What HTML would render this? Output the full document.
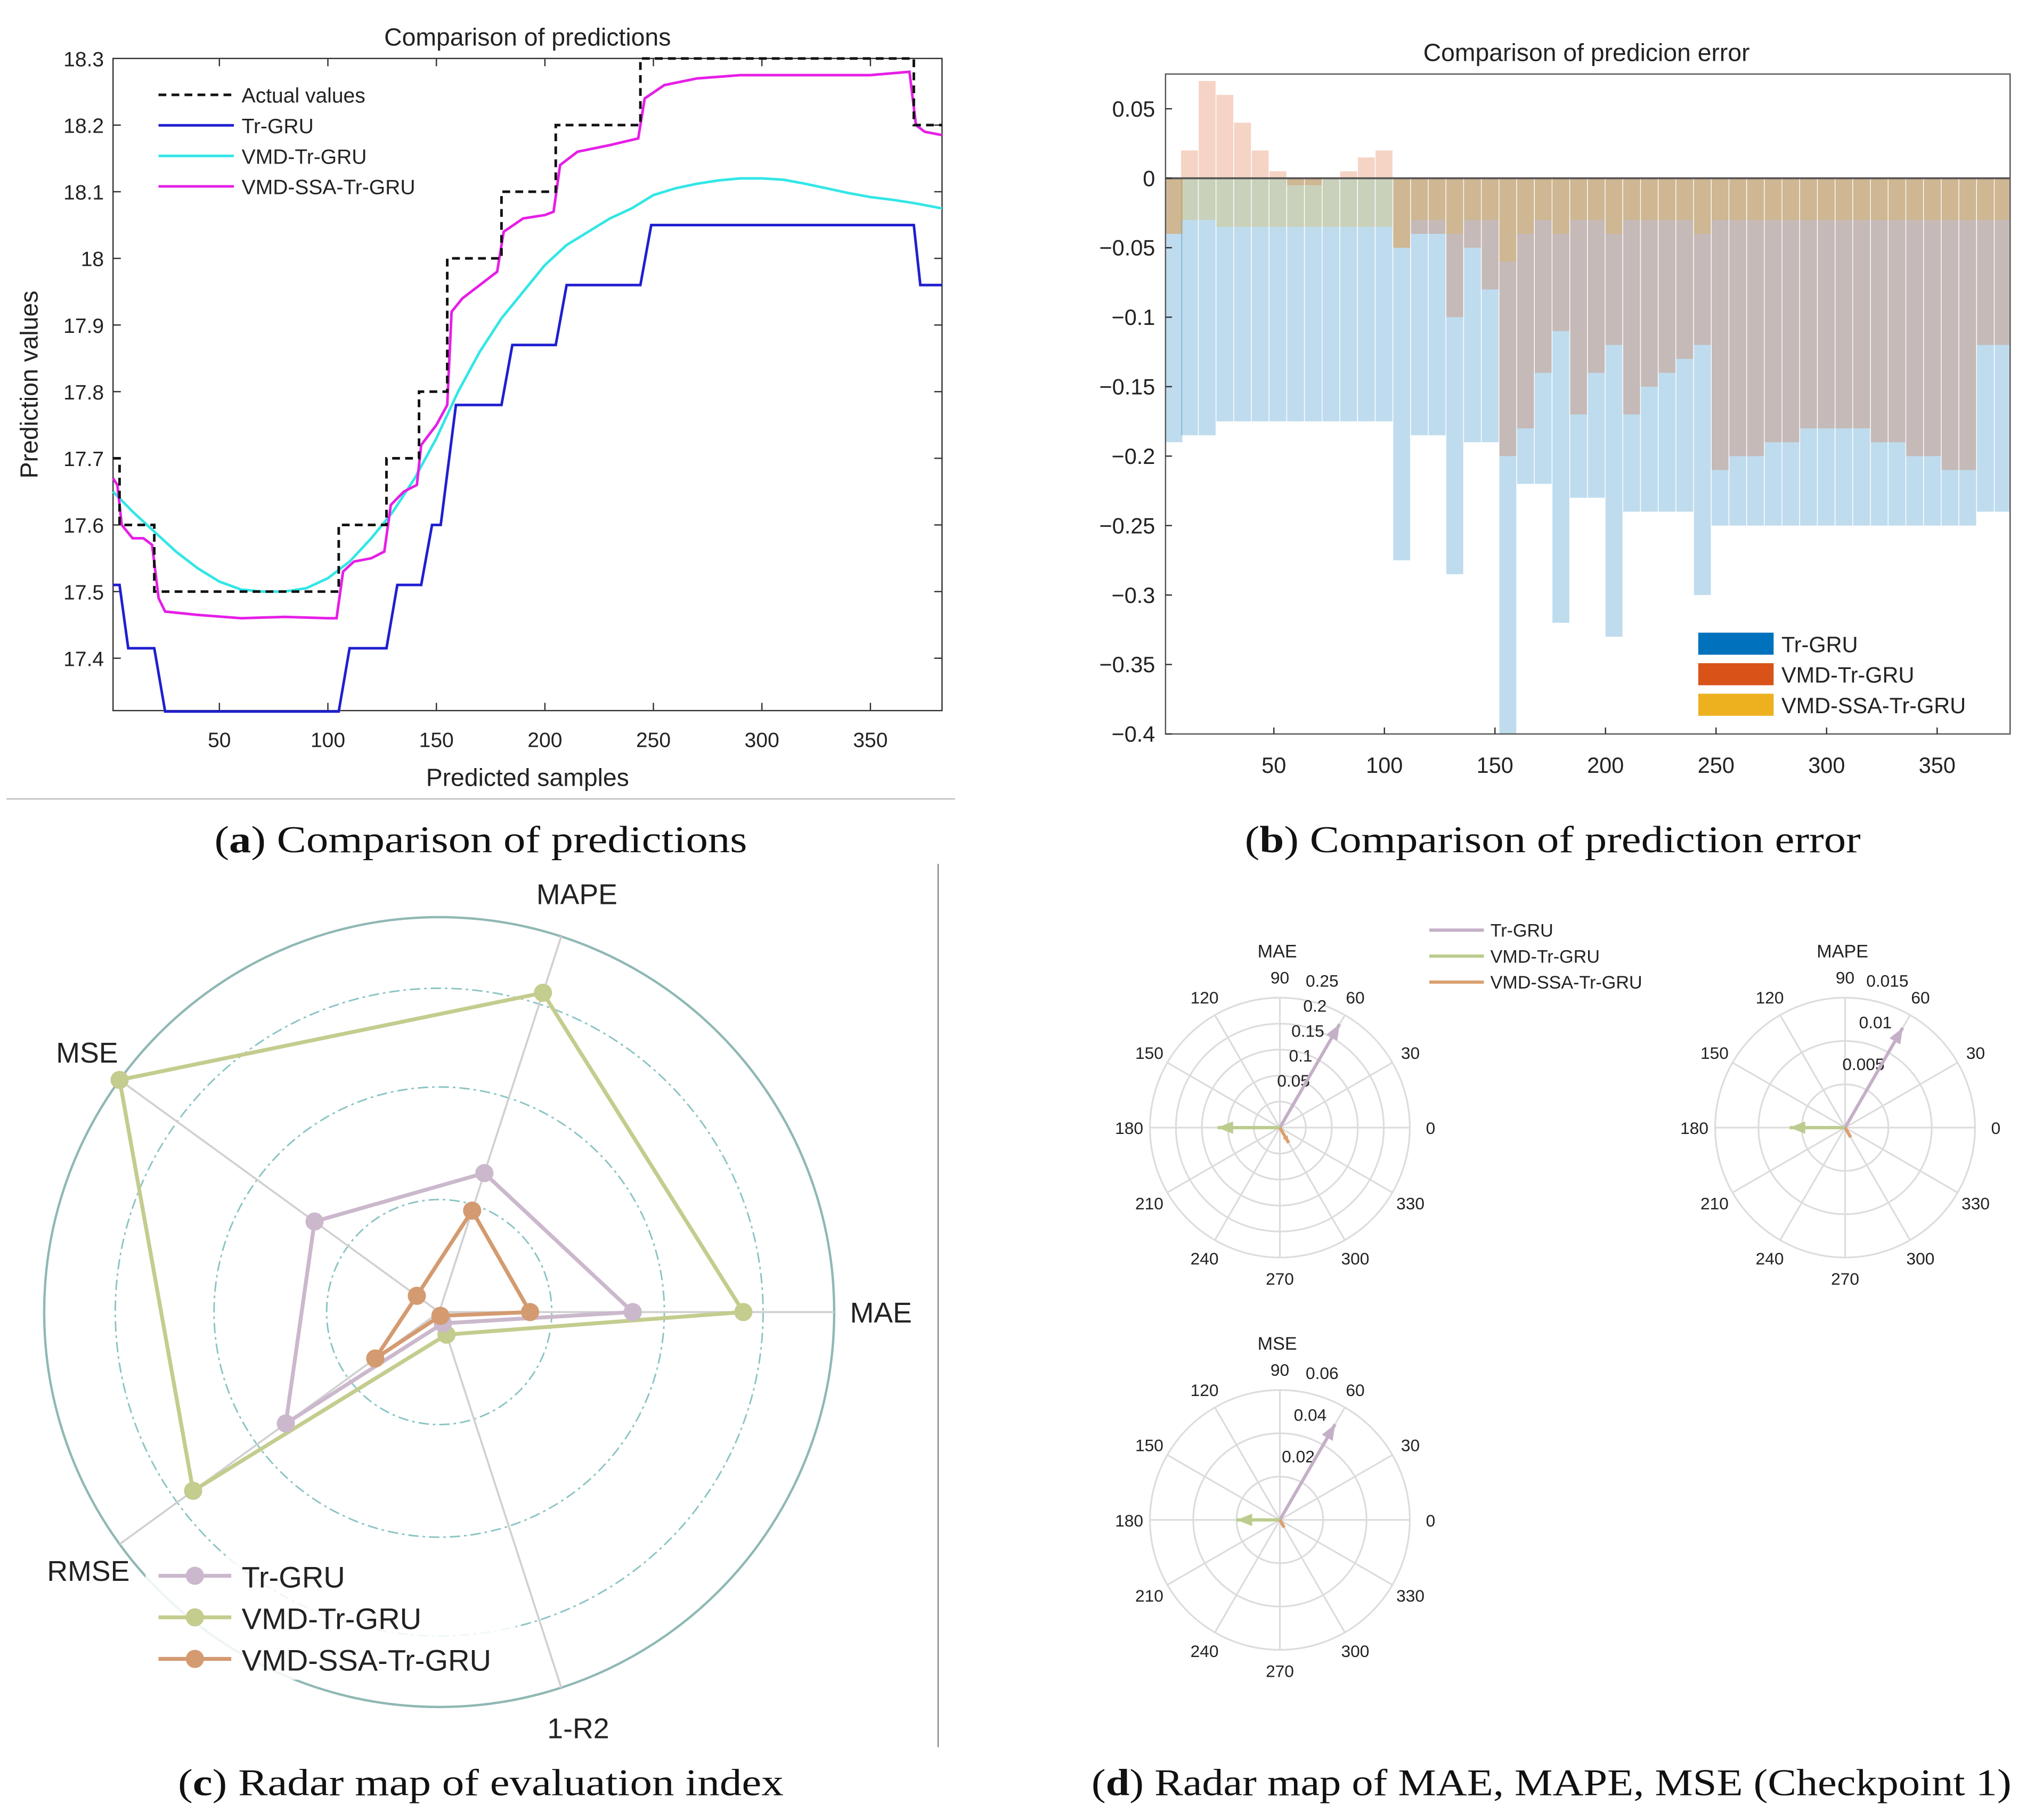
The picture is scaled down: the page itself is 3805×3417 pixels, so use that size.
<!DOCTYPE html>
<html><head><meta charset="utf-8"><style>
html,body{margin:0;padding:0;background:#fff}
svg{display:block}
text{font-family:"Liberation Sans",sans-serif;fill:#222}
.serif{font-family:"Liberation Serif",serif;fill:#111}
</style></head><body>
<svg id="fig" xmlns="http://www.w3.org/2000/svg" width="3805" height="3417" viewBox="0 0 1560 1401" preserveAspectRatio="none">
<rect width="1560" height="1401" fill="#fff"/>
<g id="pa"></g>
<g id="pb"></g>
<g id="pc"></g>
<g id="pd"></g>
<line x1="5" y1="615" x2="735" y2="615" stroke="#bbb" stroke-width="1"/>
<line x1="722" y1="665" x2="722" y2="1345" stroke="#888" stroke-width="1"/>
<text class="serif" x="165" y="656" font-size="29" textLength="410" lengthAdjust="spacingAndGlyphs">(<tspan font-weight="bold">a</tspan>) Comparison of predictions</text>
<text class="serif" x="958" y="656" font-size="29" textLength="474" lengthAdjust="spacingAndGlyphs">(<tspan font-weight="bold">b</tspan>) Comparison of prediction error</text>
<text class="serif" x="137" y="1382" font-size="29" textLength="466" lengthAdjust="spacingAndGlyphs">(<tspan font-weight="bold">c</tspan>) Radar map of evaluation index</text>
<text class="serif" x="840" y="1382" font-size="29" textLength="708" lengthAdjust="spacingAndGlyphs">(<tspan font-weight="bold">d</tspan>) Radar map of MAE, MAPE, MSE (Checkpoint 1)</text>
</svg>
<script>
const NS="http://www.w3.org/2000/svg";
function mk(parent,tag,attrs,txt){const e=document.createElementNS(NS,tag);for(const k in attrs)e.setAttribute(k,attrs[k]);if(txt!==undefined)e.textContent=txt;parent.appendChild(e);return e;}

// ===== Panel A data =====
const aYTicks=[17.4,17.5,17.6,17.7,17.8,17.9,18,18.1,18.2,18.3];
const aXTicks=[50,100,150,200,250,300,350];
const actualX=[1,4,4,20,20,105,105,127,127,142,142,155,155,180,180,205,205,244,244,370,370,383];
const actualY=[17.7,17.7,17.6,17.6,17.5,17.5,17.6,17.6,17.7,17.7,17.8,17.8,18.0,18.0,18.1,18.1,18.2,18.2,18.3,18.3,18.2,18.2];
const trX=[1,4,8,20,25,105,110,127,132,143,148,152,159,180,185,205,210,244,249,370,373,383];
const trY=[17.51,17.51,17.415,17.415,17.32,17.32,17.415,17.415,17.51,17.51,17.6,17.6,17.78,17.78,17.87,17.87,17.96,17.96,18.05,18.05,17.96,17.96];
const vmdX=[1,10,20,30,40,50,60,70,80,90,100,110,120,130,140,150,160,170,180,190,200,210,220,230,240,250,260,270,280,290,300,310,320,330,340,350,360,370,383];
const vmdY=[17.65,17.62,17.59,17.56,17.535,17.515,17.503,17.5,17.5,17.505,17.52,17.545,17.58,17.62,17.67,17.73,17.8,17.86,17.91,17.95,17.99,18.02,18.04,18.06,18.075,18.095,18.105,18.112,18.117,18.12,18.12,18.118,18.112,18.105,18.098,18.092,18.088,18.083,18.075];
const ssaX=[1,3,5,10,15,19,22,25,40,60,80,100,104,107,112,120,126,129,135,141,143,150,155,157,162,170,178,181,190,200,204,207,215,230,243,246,255,270,290,320,350,368,371,375,383];
const ssaY=[17.67,17.66,17.6,17.58,17.58,17.57,17.49,17.47,17.465,17.46,17.462,17.46,17.46,17.53,17.545,17.55,17.56,17.63,17.65,17.66,17.72,17.75,17.78,17.92,17.94,17.96,17.98,18.04,18.06,18.065,18.07,18.14,18.16,18.17,18.18,18.24,18.26,18.27,18.275,18.275,18.275,18.28,18.2,18.19,18.185];

(function(){
 const g=document.getElementById('pa');
 const L=87,R=725,T=45,B=547,xmin=1,xmax=383,ymin=17.3214,ymax=18.3;
 const sx=v=>L+(v-xmin)/(xmax-xmin)*(R-L), sy=v=>B-(v-ymin)/(ymax-ymin)*(B-T);
 let e=mk(g,'rect',{x:L,y:T,width:R-L,height:B-T,fill:'none',stroke:'#333','stroke-width':1});
 
 
 aYTicks.forEach(v=>{const y=sy(v);
  mk(g,'line',{x1:L,y1:y,x2:L+6,y2:y,stroke:'#333'});mk(g,'line',{x1:R,y1:y,x2:R-6,y2:y,stroke:'#333'});
  e=mk(g,'text',{x:L-7,y:y+6,'font-size':16,'text-anchor':'end'},String(v));
  
  });
 aXTicks.forEach(v=>{const x=sx(v);
  mk(g,'line',{x1:x,y1:B,x2:x,y2:B-6,stroke:'#333'});mk(g,'line',{x1:x,y1:T,x2:x,y2:T+6,stroke:'#333'});
  e=mk(g,'text',{x:x,y:B+28,'font-size':16,'text-anchor':'middle'},String(v));
  
  });
 const line=(X,Y,col,w,dash,name)=>{const p=mk(g,'polyline',{points:X.map((x,i)=>sx(x)+','+sy(Y[i])).join(' '),fill:'none',stroke:col,'stroke-width':w});if(dash)p.setAttribute('stroke-dasharray',dash);
  
  };
 line(vmdX,vmdY,'#33e6e6',2,null,'vmd-tr-gru-line');
 line(trX,trY,'#1f1fd0',2,null,'tr-gru-line');
 line(ssaX,ssaY,'#e61ee6',2,null,'vmd-ssa-tr-gru-line');
 line(actualX,actualY,'#111',2,'6,4','actual-values-line');
 e=mk(g,'text',{x:406,y:35,'font-size':19,'text-anchor':'middle'},'Comparison of predictions');
 
 e=mk(g,'text',{x:406,y:605,'font-size':19,'text-anchor':'middle'},'Predicted samples');
 
 e=mk(g,'text',{x:0,y:0,'font-size':19,'text-anchor':'middle',transform:'translate(29,296) rotate(-90)'},'Prediction values');
 
 const leg=[['Actual values','#111','6,4'],['Tr-GRU','#1f1fd0',null],['VMD-Tr-GRU','#33e6e6',null],['VMD-SSA-Tr-GRU','#e61ee6',null]];
 leg.forEach((l,i)=>{const y=73+i*23.5;const ln=mk(g,'line',{x1:122,y1:y,x2:180,y2:y,stroke:l[1],'stroke-width':2});if(l[2])ln.setAttribute('stroke-dasharray',l[2]);
  const t=mk(g,'text',{x:186,y:y+6,'font-size':16},l[0]);
  
  });
})();

// ===== Panel B data =====
const bXTicks=[50,100,150,200,250,300,350];
const bYTicks=[0.05,0,-0.05,-0.1,-0.15,-0.2,-0.25,-0.3,-0.35,-0.4];
const bYLabels=['0.05','0','\u22120.05','\u22120.1','\u22120.15','\u22120.2','\u22120.25','\u22120.3','\u22120.35','\u22120.4'];
const bSamples=[4,12,20,28,36,44,52,60,68,76,84,92,100,108,116,124,132,140,148,156,164,172,180,188,196,204,212,220,228,236,244,252,260,268,276,284,292,300,308,316,324,332,340,348,356,364,372,380];
const errTr=[-0.19,-0.185,-0.185,-0.175,-0.175,-0.175,-0.175,-0.175,-0.175,-0.175,-0.175,-0.175,-0.175,-0.275,-0.185,-0.185,-0.285,-0.19,-0.19,-0.4,-0.22,-0.22,-0.32,-0.23,-0.23,-0.33,-0.24,-0.24,-0.24,-0.24,-0.3,-0.25,-0.25,-0.25,-0.25,-0.25,-0.25,-0.25,-0.25,-0.25,-0.25,-0.25,-0.25,-0.25,-0.25,-0.25,-0.24,-0.24];
const errVmd=[-0.04,0.02,0.07,0.06,0.04,0.02,0.005,-0.005,-0.005,0,0.005,0.015,0.02,-0.05,-0.04,-0.04,-0.1,-0.05,-0.08,-0.2,-0.18,-0.14,-0.11,-0.17,-0.14,-0.12,-0.17,-0.15,-0.14,-0.13,-0.12,-0.21,-0.2,-0.2,-0.19,-0.19,-0.18,-0.18,-0.18,-0.18,-0.19,-0.19,-0.2,-0.2,-0.21,-0.21,-0.12,-0.12];
const errSsa=[-0.04,-0.03,-0.03,-0.035,-0.035,-0.035,-0.035,-0.035,-0.035,-0.035,-0.035,-0.035,-0.035,-0.05,-0.03,-0.03,-0.04,-0.03,-0.03,-0.06,-0.04,-0.03,-0.04,-0.03,-0.03,-0.04,-0.03,-0.03,-0.03,-0.03,-0.04,-0.03,-0.03,-0.03,-0.03,-0.03,-0.03,-0.03,-0.03,-0.03,-0.03,-0.03,-0.03,-0.03,-0.03,-0.03,-0.03,-0.03];

(function(){
 const g=document.getElementById('pb');
 const L=897,R=1547,T=57,B=565,xmin=1,xmax=383,ymin=-0.4,ymax=0.075;
 const sx=v=>L+(v-xmin)/(xmax-xmin)*(R-L), sy=v=>B-(v-ymin)/(ymax-ymin)*(B-T);
 const bw=8*(R-L)/(xmax-xmin);
 const draw=(vals,col,op,name)=>{vals.forEach((v,i)=>{const x=sx(bSamples[i])-bw/2;const y0=sy(0),y1=sy(v);
   const r=mk(g,'rect',{x:Math.max(L,x),y:Math.min(y0,y1),width:Math.min(bw,R-Math.max(L,x))-0.6,height:Math.abs(y1-y0),fill:col,'fill-opacity':op});
   
   });};
 draw(errTr,'#0072bd',0.25,'bar-tr-gru');
 draw(errVmd,'#d95319',0.25,'bar-vmd-tr-gru');
 draw(errSsa,'#edb120',0.25,'bar-vmd-ssa-tr-gru');
 mk(g,'line',{x1:L,y1:sy(0),x2:R,y2:sy(0),stroke:'#555','stroke-width':1.5});
 let e=mk(g,'rect',{x:L,y:T,width:R-L,height:B-T,fill:'none',stroke:'#555'});
 
 bYTicks.forEach((v,i)=>{const y=sy(v);mk(g,'line',{x1:L,y1:y,x2:L+5,y2:y,stroke:'#333'});
  e=mk(g,'text',{x:L-8,y:y+6,'font-size':17,'text-anchor':'end'},bYLabels[i]);
  });
 bXTicks.forEach(v=>{const x=sx(v);mk(g,'line',{x1:x,y1:B,x2:x,y2:B-5,stroke:'#333'});
  e=mk(g,'text',{x:x,y:B+30,'font-size':17,'text-anchor':'middle'},String(v));
  });
 e=mk(g,'text',{x:1221,y:47,'font-size':19,'text-anchor':'middle'},'Comparison of predicion error');
 
 mk(g,'rect',{x:1300,y:480,width:240,height:78,fill:'#fff'});
 [['Tr-GRU','#0072bd'],['VMD-Tr-GRU','#d95319'],['VMD-SSA-Tr-GRU','#edb120']].forEach((l,i)=>{const y=487+i*23.5;
  mk(g,'rect',{x:1307,y:y,width:58,height:17,fill:l[1]});
  const t=mk(g,'text',{x:1371,y:y+15,'font-size':17},l[0]);
  });
})();

// ===== Panel C data =====
const radarAxes=['MAE','MAPE','MSE','RMSE','1-R2'];
const radarTr=[0.49,0.37,0.39,0.48,0.03];
const radarVmd=[0.77,0.85,1.0,0.77,0.06];
const radarSsa=[0.23,0.27,0.07,0.2,0.01];

(function(){
 const g=document.getElementById('pc');
 const cx=338,cy=1010,R=304;
 const pt=(i,r)=>{const a=i*72*Math.PI/180;return [cx+Math.cos(a)*r*R,cy-Math.sin(a)*r*R];};
 [0.285,0.57,0.82].forEach(f=>mk(g,'circle',{cx:cx,cy:cy,r:f*R,fill:'none',stroke:'#8cc4c4','stroke-width':1.2,'stroke-dasharray':'8,3,2,3'}));
 mk(g,'circle',{cx:cx,cy:cy,r:R,fill:'none',stroke:'#8fb8b4','stroke-width':1.8});
 const lblPos=[[678,1018,'middle'],[444,696,'middle'],[67,818,'middle'],[68,1217,'middle'],[445,1338,'middle']];
 radarAxes.forEach((n,i)=>{const p=pt(i,1.0);mk(g,'line',{x1:cx,y1:cy,x2:p[0],y2:p[1],stroke:'#d0d0d0','stroke-width':1.5});
  const t=mk(g,'text',{x:lblPos[i][0],y:lblPos[i][1],'font-size':22,'text-anchor':'middle'},n);
  });
 const series=[[radarVmd,'#c4cc8e','vmd-tr-gru'],[radarTr,'#cbb8cc','tr-gru'],[radarSsa,'#d49a70','vmd-ssa-tr-gru']];
 series.forEach(s=>{const pts=s[0].map((v,i)=>pt(i,v));
  const p=mk(g,'polygon',{points:pts.map(q=>q.join(',')).join(' '),fill:'none',stroke:s[1],'stroke-width':3});
  
  pts.forEach(q=>{const c=mk(g,'circle',{cx:q[0],cy:q[1],r:7,fill:s[1]});
   });});
 mk(g,'rect',{x:112,y:1198,width:285,height:95,fill:'#fff','fill-opacity':0.85});
 [['Tr-GRU','#cbb8cc'],['VMD-Tr-GRU','#c4cc8e'],['VMD-SSA-Tr-GRU','#d49a70']].forEach((l,i)=>{const y=1213+i*32;
  mk(g,'line',{x1:122,y1:y,x2:178,y2:y,stroke:l[1],'stroke-width':3});mk(g,'circle',{cx:150,cy:y,r:7,fill:l[1]});
  const t=mk(g,'text',{x:186,y:y+9,'font-size':23},l[0]);
  });
})();

// ===== Panel D data =====
const polarTitles=['MAE','MAPE','MSE'];
const polarMax=[0.25,0.015,0.06];
const polarRingLabels=[['0.05','0.1','0.15','0.2','0.25'],['0.005','0.01','0.015'],['0.02','0.04','0.06']];
const polarAngles=[60,180,300];
const polarTr=[0.23,0.0133,0.051];
const polarVmd=[0.12,0.0064,0.02];
const polarSsa=[0.034,0.0013,0.004];

(function(){
 const g=document.getElementById('pd');
 const centers=[[985,868],[1420,868],[985,1170]];const R=100;
 const cols=['#c4b0c6','#bccc8e','#d9a070'];
 centers.forEach((c,k)=>{const [cx,cy]=c;
  const labs=polarRingLabels[k];const n=labs.length;
  for(let j=1;j<=n;j++)mk(g,'circle',{cx:cx,cy:cy,r:R*j/n,fill:'none',stroke:'#dcdcdc','stroke-width':1.3});
  for(let a=0;a<360;a+=30){const r=a*Math.PI/180;
   mk(g,'line',{x1:cx,y1:cy,x2:cx+R*Math.cos(r),y2:cy-R*Math.sin(r),stroke:'#dcdcdc','stroke-width':1.3});
   const t=mk(g,'text',{x:cx+116*Math.cos(r),y:cy-116*Math.sin(r)+5,'font-size':13,'text-anchor':'middle',fill:'#444'},String(a));
   }
  labs.forEach((l,j)=>{const rr=R*(j+1)/n+18;const a=74*Math.PI/180;
   const t=mk(g,'text',{x:cx+rr*Math.cos(a),y:cy-rr*Math.sin(a)+5,'font-size':13,'text-anchor':'middle',fill:'#444'},l);
   });
  let t=mk(g,'text',{x:cx-2,y:cy-131,'font-size':14,'text-anchor':'middle'},polarTitles[k]);
  
  [[polarTr,0],[polarVmd,1],[polarSsa,2]].forEach(s=>{const v=s[0][k];const L=v/polarMax[k]*R;const a=polarAngles[s[1]]*Math.PI/180;
   const ex=cx+L*Math.cos(a),ey=cy-L*Math.sin(a);
   const ln=mk(g,'line',{x1:cx,y1:cy,x2:ex,y2:ey,stroke:cols[s[1]],'stroke-width':2.5});
   
   const h=Math.min(12,L*0.4),w=Math.min(5,h*0.4);
   const bx=ex-h*Math.cos(a),by=ey+h*Math.sin(a);const px=Math.sin(a)*w,py=Math.cos(a)*w;
   mk(g,'polygon',{points:`${ex},${ey} ${bx+px},${by+py} ${bx-px},${by-py}`,fill:cols[s[1]]});});
 });
 [['Tr-GRU',cols[0]],['VMD-Tr-GRU',cols[1]],['VMD-SSA-Tr-GRU',cols[2]]].forEach((l,i)=>{const y=716+i*20;
  mk(g,'line',{x1:1100,y1:y,x2:1142,y2:y,stroke:l[1],'stroke-width':2.5});
  const t=mk(g,'text',{x:1147,y:y+5,'font-size':14,fill:'#444'},l[0]);
  });
})();
</script>
</body></html>
